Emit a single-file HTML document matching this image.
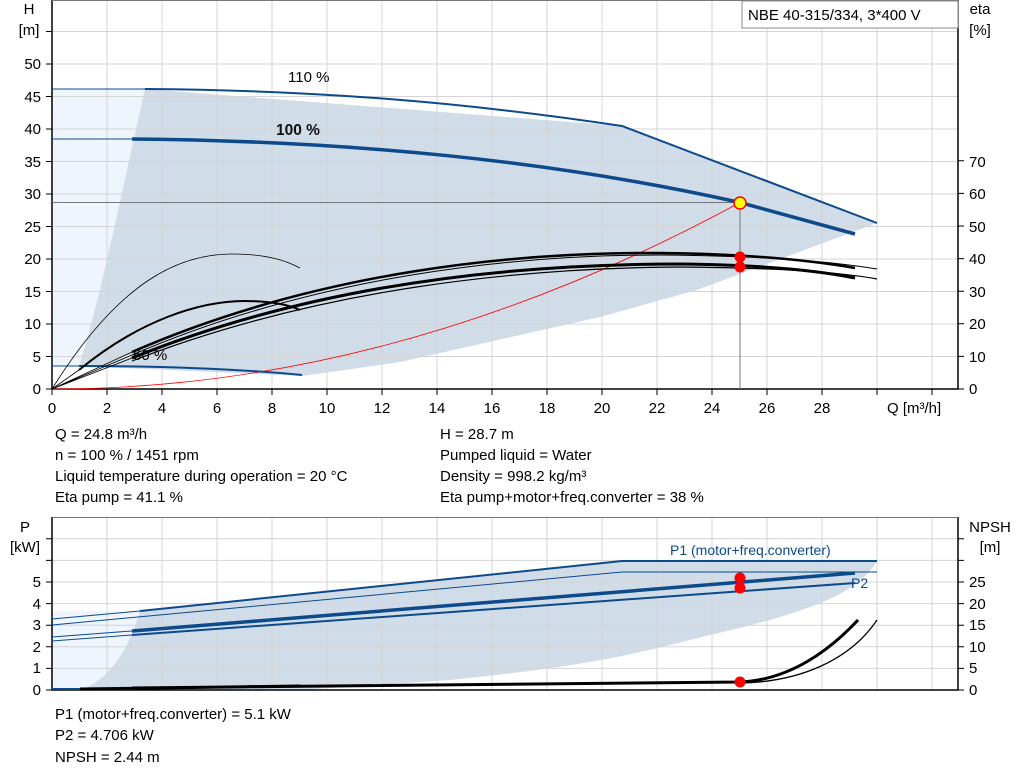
<!DOCTYPE html>
<html><head><meta charset="utf-8"><style>
body{margin:0;background:#fff;}
svg{display:block;font-family:"Liberation Sans",sans-serif;}
</style></head><body>
<svg width="1024" height="781" viewBox="0 0 1024 781" xmlns="http://www.w3.org/2000/svg">
<!-- TOP CHART -->
<g>
<!-- light region -->
<path d="M52,89 L145,89 C120,200 100,300 79,366 L52,366 Z" fill="#eef5fc"/>
<!-- dark region -->
<path d="M145,89 L622,126 L877,223 L697,290 L600,317 L400,362 L302,376 L79,366 C100,300 120,200 145,89 Z" fill="#d0dce8"/>
<!-- grid -->
<g stroke="#d4d4d4" stroke-width="1">
<path d="M107,0V389M162,0V389M217,0V389M272,0V389M327,0V389M382,0V389M437,0V389M492,0V389M547,0V389M602,0V389M657,0V389M712,0V389M767,0V389M822,0V389M877,0V389M932,0V389"/>
<path d="M52,356.5H958M52,324H958M52,291.5H958M52,259H958M52,226.5H958M52,194H958M52,161.5H958M52,129H958M52,96.5H958M52,64H958M52,31.5H958"/>
</g>
<!-- frame -->
<path d="M52,0V389H958V0" fill="none" stroke="#000" stroke-width="1.5"/>
<path d="M52,0.5H958" stroke="#777" stroke-width="1"/>
<!-- ticks -->
<g stroke="#000" stroke-width="1">
<path d="M46,389H52M46,356.5H52M46,324H52M46,291.5H52M46,259H52M46,226.5H52M46,194H52M46,161.5H52M46,129H52M46,96.5H52M46,64H52M46,31.5H52"/>
<path d="M958,389H964M958,356.4H964M958,323.8H964M958,291.2H964M958,258.6H964M958,226H964M958,193.4H964M958,160.8H964"/>
<path d="M52,389V395M107,389V395M162,389V395M217,389V395M272,389V395M327,389V395M382,389V395M437,389V395M492,389V395M547,389V395M602,389V395M657,389V395M712,389V395M767,389V395M822,389V395M877,389V395M932,389V395"/>
</g>
<g font-size="15" fill="#000" text-anchor="end">
<text x="41" y="394">0</text><text x="41" y="362">5</text><text x="41" y="329">10</text><text x="41" y="297">15</text><text x="41" y="264">20</text><text x="41" y="232">25</text><text x="41" y="199">30</text><text x="41" y="167">35</text><text x="41" y="134">40</text><text x="41" y="102">45</text><text x="41" y="69">50</text>
</g>
<g font-size="15" fill="#000">
<text x="29" y="14" text-anchor="middle">H</text><text x="29" y="35" text-anchor="middle">[m]</text>
<text x="980" y="14" text-anchor="middle">eta</text><text x="980" y="35" text-anchor="middle">[%]</text>
<text x="969" y="394">0</text><text x="969" y="362">10</text><text x="969" y="329">20</text><text x="969" y="297">30</text><text x="969" y="264">40</text><text x="969" y="232">50</text><text x="969" y="199">60</text><text x="969" y="167">70</text>
</g>
<g font-size="15" fill="#000" text-anchor="middle">
<text x="52" y="413">0</text><text x="107" y="413">2</text><text x="162" y="413">4</text><text x="217" y="413">6</text><text x="272" y="413">8</text><text x="327" y="413">10</text><text x="382" y="413">12</text><text x="437" y="413">14</text><text x="492" y="413">16</text><text x="547" y="413">18</text><text x="602" y="413">20</text><text x="657" y="413">22</text><text x="712" y="413">24</text><text x="767" y="413">26</text><text x="822" y="413">28</text>
</g>
<text x="887" y="413" font-size="15">Q [m³/h]</text>
<!-- title box -->
<rect x="742" y="1" width="216" height="27" fill="#fff" stroke="#888"/>
<text x="748" y="20" font-size="15">NBE 40-315/334, 3*400 V</text>
<!-- operating lines -->
<path d="M52,202.5H740V389" stroke="#777" stroke-width="1" fill="none"/>
<!-- system curve -->
<path d="M52,389 Q396,389 740,202.5" stroke="#f00" stroke-width="0.8" fill="none"/>
<!-- head curves -->
<g fill="none" stroke="#0d4a8c">
<path d="M52,89H145" stroke-width="1"/>
<path d="M145,89 C300,90 450,100 622,126 L877,223" stroke-width="2"/>
<path d="M52,139H132" stroke-width="1"/>
<path d="M132,139 C350,141 550,160 740,202.5 L855,234" stroke-width="3.5"/>
<path d="M52,366H79" stroke-width="1"/>
<path d="M79,366 C180,366 250,370 302,375" stroke-width="2"/>
</g>
<text x="288" y="82" font-size="15">110 %</text>
<text x="276" y="135" font-size="15.5" font-weight="bold" fill="#111">100 %</text>
<text x="133" y="360" font-size="15">60 %</text>
<!-- eta curves -->
<g fill="none" stroke="#000">
<path d="M52,389 C120,280 180,254 232,254 C265,254 285,260 300,268" stroke-width="0.8"/>
<path d="M79,370 C140,320 200,301 245,301 C270,301 290,305 300,310" stroke-width="2"/>
<path d="M52,389 L132,352 M52,389 L132,355 M52,389 L132,358 M52,389 L79,370" stroke-width="0.8"/>
<path d="M132,352 C320,270 520,252 660,253 C760,254 820,262 855,268" stroke-width="2.5"/>
<path d="M132,355 C320,274 520,255 660,255 C780,256 840,263 877,269" stroke-width="1"/>
<path d="M132,358 C320,282 520,264 680,264 C780,265 830,273 855,278" stroke-width="3"/>
<path d="M132,361 C320,288 520,268 680,267 C790,268 845,273 877,279" stroke-width="1.2"/>
</g>
<circle cx="740" cy="257" r="5.5" fill="#f00"/>
<circle cx="740" cy="267" r="5.5" fill="#f00"/>
<circle cx="740" cy="203" r="6" fill="#ff0" stroke="#f00" stroke-width="1.5"/>
</g>
<!-- INFO TEXT -->
<g font-size="15" fill="#000">
<text x="55" y="439">Q = 24.8 m³/h</text>
<text x="55" y="460">n = 100 % / 1451 rpm</text>
<text x="55" y="481">Liquid temperature during operation = 20 °C</text>
<text x="55" y="502">Eta pump = 41.1 %</text>
<text x="440" y="439">H = 28.7 m</text>
<text x="440" y="460">Pumped liquid = Water</text>
<text x="440" y="481">Density = 998.2 kg/m³</text>
<text x="440" y="502">Eta pump+motor+freq.converter = 38 %</text>
</g>
<!-- BOTTOM CHART -->
<g>
<path d="M52,611 L140,611 C128,650 110,680 80,690 L52,690 Z" fill="#eef5fc"/>
<path d="M140,611 L622,561 L877,561 C860,590 820,610 710,635 C650,650 600,665 450,680 L300,690 L80,690 C110,680 128,650 140,611 Z" fill="#d0dce8"/>
<g stroke="#d4d4d4" stroke-width="1">
<path d="M107,517V690M162,517V690M217,517V690M272,517V690M327,517V690M382,517V690M437,517V690M492,517V690M547,517V690M602,517V690M657,517V690M712,517V690M767,517V690M822,517V690M877,517V690M932,517V690"/>
<path d="M52,668.4H958M52,646.8H958M52,625.2H958M52,603.6H958M52,582H958M52,560.4H958M52,538.8H958"/>
</g>
<path d="M52,517V690H958V517" fill="none" stroke="#000" stroke-width="1.5"/>
<path d="M52,517.5H958" stroke="#777"/>
<g stroke="#000" stroke-width="1">
<path d="M46,690H52M46,668.4H52M46,646.8H52M46,625.2H52M46,603.6H52M46,582H52M46,560.4H52M46,538.8H52"/>
<path d="M958,690H964M958,668.4H964M958,646.8H964M958,625.2H964M958,603.6H964M958,582H964M958,560.4H964M958,538.8H964"/>
</g>
<g font-size="15" fill="#000" text-anchor="end">
<text x="41" y="695">0</text><text x="41" y="673">1</text><text x="41" y="652">2</text><text x="41" y="630">3</text><text x="41" y="609">4</text><text x="41" y="587">5</text>
</g>
<g font-size="15" fill="#000">
<text x="969" y="695">0</text><text x="969" y="673">5</text><text x="969" y="652">10</text><text x="969" y="630">15</text><text x="969" y="609">20</text><text x="969" y="587">25</text>
<text x="25" y="532" text-anchor="middle">P</text><text x="25" y="552" text-anchor="middle">[kW]</text>
<text x="990" y="532" text-anchor="middle">NPSH</text><text x="990" y="552" text-anchor="middle">[m]</text>
</g>
<g fill="none" stroke="#0d4a8c">
<path d="M52,619 L140,611" stroke-width="1"/>
<path d="M140,611 L622,561 L877,561" stroke-width="2"/>
<path d="M52,625 L622,572 L877,572" stroke-width="1"/>
<path d="M52,637 L132,631" stroke-width="1"/>
<path d="M132,631 L855,573" stroke-width="3.5"/>
<path d="M52,641 L132,635" stroke-width="1"/>
<path d="M132,635 L855,583" stroke-width="2"/>
<path d="M52,689 L132,689" stroke-width="2"/>
</g>
<text x="670" y="555" font-size="14" fill="#0d4a8c">P1 (motor+freq.converter)</text>
<text x="851" y="588" font-size="14" fill="#0d4a8c">P2</text>
<g fill="none" stroke="#000">
<path d="M80,689 L300,686 M132,688 L740,682 C790,680 830,650 858,620" stroke-width="3"/>
<path d="M740,683 C800,682 850,660 877,620" stroke-width="1.3"/>
</g>
<circle cx="740" cy="578" r="5.5" fill="#f00"/>
<circle cx="740" cy="588" r="5.5" fill="#f00"/>
<circle cx="740" cy="682" r="5.5" fill="#f00"/>
</g>
<g font-size="15" fill="#000">
<text x="55" y="719">P1 (motor+freq.converter) = 5.1 kW</text>
<text x="55" y="740">P2 = 4.706 kW</text>
<text x="55" y="762">NPSH = 2.44 m</text>
</g>
</svg>
</body></html>
